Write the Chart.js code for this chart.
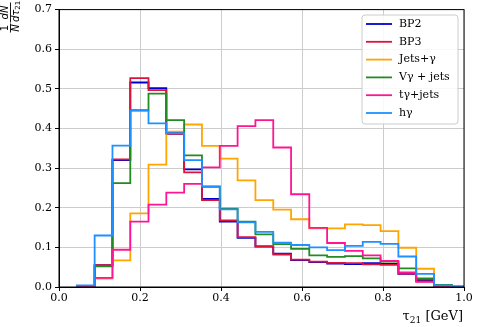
<!DOCTYPE html>
<html>
<head>
<meta charset="utf-8">
<script src="https://cdn.jsdelivr.net/npm/chart.js@4.4.0/dist/chart.umd.min.js"></script>
<style>
  body { margin: 0; background: #fff; }
  #wrap { width: 480px; height: 327px; }
</style>
</head>
<body>
<div id="wrap"><canvas id="canvas" width="480" height="327"></canvas></div>
<script>
// bin edges of the tau21 histogram
var binEdges = [0.044, 0.088, 0.132, 0.176, 0.221, 0.265, 0.309, 0.353, 0.397, 0.441, 0.485, 0.529,
                0.573, 0.618, 0.662, 0.706, 0.750, 0.794, 0.838, 0.882, 0.926, 0.970, 1.014];

var bp2   = [0.000, 0.055, 0.320, 0.516, 0.502, 0.390, 0.297, 0.222, 0.165, 0.124, 0.102,
             0.084, 0.068, 0.063, 0.059, 0.058, 0.060, 0.058, 0.033, 0.017, 0.001, 0.000];
var bp3   = [0.000, 0.055, 0.322, 0.527, 0.497, 0.386, 0.289, 0.219, 0.168, 0.126, 0.103,
             0.082, 0.069, 0.064, 0.061, 0.060, 0.057, 0.056, 0.034, 0.014, 0.000, 0.000];
var jetsA = [0.000, 0.021, 0.067, 0.186, 0.309, 0.392, 0.410, 0.356, 0.324, 0.269, 0.219,
             0.195, 0.171, 0.148, 0.148, 0.158, 0.156, 0.141, 0.099, 0.046, 0.004, 0.001];
var vA    = [0.000, 0.052, 0.262, 0.446, 0.488, 0.421, 0.332, 0.253, 0.198, 0.165, 0.133,
             0.108, 0.096, 0.080, 0.076, 0.078, 0.072, 0.064, 0.047, 0.022, 0.005, 0.000];
var tA    = [0.000, 0.023, 0.094, 0.165, 0.208, 0.238, 0.260, 0.302, 0.356, 0.406, 0.421,
             0.352, 0.234, 0.149, 0.111, 0.091, 0.080, 0.066, 0.037, 0.013, 0.000, 0.000];
var hA    = [0.004, 0.130, 0.357, 0.445, 0.413, 0.388, 0.320, 0.254, 0.196, 0.163, 0.139,
             0.112, 0.106, 0.100, 0.093, 0.104, 0.114, 0.109, 0.077, 0.033, 0.004, 0.002];

var names  = ["BP2", "BP3", "Jets+\u03b3", "V\u03b3 + jets", "t\u03b3+jets", "h\u03b3"];
var colors = ["#0000cd", "#dc143c", "#ffa500", "#228b22", "#ff1493", "#1e90ff"];
var series = [bp2, bp3, jetsA, vA, tA, hA];

var xTicks = [0.0, 0.2, 0.4, 0.6, 0.8, 1.0];
var yTicks = [0.0, 0.1, 0.2, 0.3, 0.4, 0.5, 0.6, 0.7];

var serif = "'DejaVu Serif', serif";
var sans = "'DejaVu Sans', sans-serif";

// step outline: start at first edge on zero, then one point per bin at its right edge
function stepPoints(vals) {
  var pts = [{x: binEdges[0], y: 0}];
  for (var i = 0; i < vals.length; i++) {
    pts.push({x: binEdges[i + 1], y: vals[i]});
  }
  pts.push({x: binEdges[vals.length], y: 0});
  return pts;
}

var frame = {
  id: 'frame',
  afterDraw: function(chart) {
    var ctx = chart.ctx;
    var a = chart.chartArea;
    ctx.save();
    ctx.strokeStyle = '#000';
    ctx.lineWidth = 1;
    ctx.strokeRect(a.left, a.top, a.right - a.left, a.bottom - a.top);

    // legend
    var bx = 362, by = 15, bw = 96, bh = 109;
    ctx.fillStyle = 'rgba(255,255,255,0.85)';
    ctx.strokeStyle = '#cccccc';
    ctx.beginPath();
    ctx.roundRect(bx, by, bw, bh, 3);
    ctx.fill();
    ctx.stroke();
    ctx.font = '11px ' + serif;
    ctx.textBaseline = 'middle';
    ctx.textAlign = 'left';
    for (var i = 0; i < names.length; i++) {
      var yy = 24 + i * 17.8;
      ctx.strokeStyle = colors[i];
      ctx.lineWidth = 1.8;
      ctx.beginPath();
      ctx.moveTo(366, yy);
      ctx.lineTo(392, yy);
      ctx.stroke();
      ctx.fillStyle = '#000';
      ctx.fillText(names[i], 399, yy);
    }

    // x label
    ctx.fillStyle = '#000';
    ctx.textBaseline = 'alphabetic';
    ctx.textAlign = 'right';
    ctx.font = '13px ' + serif;
    var rx = 463, base = 320;
    ctx.fillText(' [GeV]', rx, base);
    rx -= ctx.measureText(' [GeV]').width;
    ctx.font = '9px ' + serif;
    ctx.fillText('21', rx, base + 2.5);
    rx -= ctx.measureText('21').width;
    ctx.font = '13px ' + serif;
    ctx.fillText('\u03c4', rx, base);

    // y label: 1/N dN/dtau21, rotated
    ctx.translate(10, 0);
    ctx.rotate(-Math.PI / 2);
    ctx.textAlign = 'center';
    ctx.font = '10px ' + sans;
    ctx.fillText('1', -28, -1.8);
    ctx.font = 'italic 10px ' + sans;
    ctx.fillText('N', -28, 8.6);
    ctx.fillRect(-32.5, 0.1, 9, 0.9);
    ctx.fillText('dN', -12.5, -1.8);
    ctx.textAlign = 'left';
    ctx.fillText('d\u03c4', -22, 8.6);
    var w = ctx.measureText('d\u03c4').width;
    ctx.font = '7px ' + sans;
    ctx.fillText('21', -22 + w, 10.3);
    ctx.fillRect(-22.5, 0.1, 20, 0.9);
    ctx.restore();
  }
};

window.onload = function() {
  Chart.defaults.font.family = serif;
  Chart.defaults.font.size = 11;
  Chart.defaults.color = '#000';

  var datasets = [];
  for (var i = 0; i < series.length; i++) {
    datasets.push({
      label: names[i],
      data: stepPoints(series[i]),
      borderColor: colors[i],
      backgroundColor: colors[i],
      borderWidth: 1.8,
      pointRadius: 0,
      fill: false,
      stepped: 'after',
      order: series.length - i
    });
  }

  window.myChart = new Chart(document.getElementById('canvas'), {
    type: 'line',
    data: { datasets: datasets },
    options: {
      responsive: false,
      animation: false,
      layout: { padding: { top: 7, right: 16, left: 0, bottom: 0 } },
      plugins: { legend: { display: false }, tooltip: { enabled: false } },
      scales: {
        x: {
          type: 'linear',
          min: 0, max: 1.0,
          afterBuildTicks: function(s) { s.ticks = xTicks.map(function(v) { return {value: v}; }); },
          afterFit: function(s) { s.height = 40; },
          grid: { color: '#cccccc', tickColor: '#000', tickLength: 4, drawTicks: true },
          border: { color: '#000' },
          ticks: { padding: 1, maxRotation: 0, callback: function(v) { return v.toFixed(1); } }
        },
        y: {
          min: 0, max: 0.7,
          afterBuildTicks: function(s) { s.ticks = yTicks.map(function(v) { return {value: v}; }); },
          afterFit: function(s) { s.width = 59; },
          grid: { color: '#cccccc', tickColor: '#000', tickLength: 4 },
          border: { color: '#000' },
          ticks: { padding: 3, callback: function(v) { return v.toFixed(1); } }
        }
      }
    },
    plugins: [frame]
  });
};
</script>
</body>
</html>
